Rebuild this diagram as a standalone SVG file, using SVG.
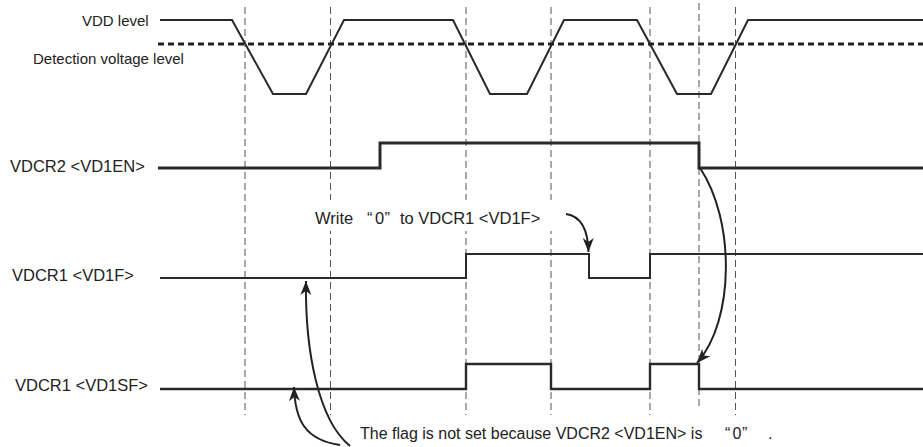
<svg xmlns="http://www.w3.org/2000/svg" width="923" height="447" viewBox="0 0 923 447">
<style>
text{font-family:"Liberation Sans",Arial,sans-serif;fill:#222;}
.lbl{font-size:16.5px;}
.vdd{font-size:15px;}
.grid{stroke:#555;stroke-width:1;stroke-dasharray:7 4;fill:none;}
.wave{fill:none;stroke:#2a2a2a;stroke-linejoin:miter;}
.arr{fill:none;stroke:#222;stroke-width:2;marker-end:url(#ah);}
</style>
<defs>
<marker id="ah" markerWidth="16" markerHeight="12" viewBox="-15 -6 16 12" refX="0" refY="0" orient="auto" markerUnits="userSpaceOnUse">
<path d="M0,0 L-14,-5.5 L-10,0 L-14,5.5 Z" fill="#222"/>
</marker>
</defs>
<rect width="923" height="447" fill="#fff"/>
<g id="grid">
<line class="grid" x1="245" y1="7" x2="245" y2="415"/>
<line class="grid" x1="330.5" y1="7" x2="330.5" y2="415"/>
<line class="grid" x1="466" y1="7" x2="466" y2="415"/>
<line class="grid" x1="551" y1="7" x2="551" y2="415"/>
<line class="grid" x1="650" y1="7" x2="650" y2="415"/>
<line class="grid" x1="699" y1="3" x2="699" y2="410"/>
<line class="grid" x1="735.5" y1="7" x2="735.5" y2="415"/>
</g>
<g id="vdd">
<path class="wave" stroke-width="2" d="M160,20 H232 L273,94 H306 L344,20 H453 L490,94 H527 L564,20 H637 L677,94 H711 L748,20 H923"/>
<line x1="158" y1="44" x2="923" y2="44" stroke="#222" stroke-width="2.8" stroke-dasharray="6 4"/>
<text class="vdd" x="82" y="26">VDD level</text>
<text class="vdd" x="33" y="64">Detection voltage level</text>
</g>
<g id="vd1en">
<text class="lbl" x="10" y="171.5">VDCR2 &lt;VD1EN&gt;</text>
<path class="wave" stroke-width="3" d="M158,168 H380 V143 H699 V168 H923"/>
</g>
<g id="vd1f">
<text class="lbl" x="12" y="281">VDCR1 &lt;VD1F&gt;</text>
<path class="wave" stroke-width="2" stroke="#444" d="M160,278 H466 V254 H589 V278 H650 V254 H923"/>
</g>
<g id="vd1sf">
<text class="lbl" x="15" y="391">VDCR1 &lt;VD1SF&gt;</text>
<path class="wave" stroke-width="2.4" d="M160,389 H466 V364 H551 V389 H650 V364 H699 V389 H923"/>
</g>
<g id="note-write">
<rect x="310" y="200" width="245" height="31" fill="#fff"/>
<text class="lbl" x="315" y="224">Write<tspan x="367">“</tspan><tspan x="375">0</tspan><tspan x="384.5">”</tspan><tspan x="400">to VDCR1 &lt;VD1F&gt;</tspan></text>
</g>
<g id="note-flag">
<text style="font-size:16px" x="360" y="439">The flag is not set because VDCR2 &lt;VD1EN&gt; is<tspan x="725">“</tspan><tspan x="732.5">0</tspan><tspan x="742">”</tspan><tspan x="768">.</tspan></text>
</g>
<g id="connectors">
<path class="arr" d="M566,214 C580,216 588,228 588.5,252"/>
<path class="arr" d="M700,168 C735,220 735,320 697,363"/>
<path class="arr" d="M340,445 C305,440 295,420 294,387"/>
<path class="arr" d="M350,446 C318,420 305,350 306,281"/>
</g>
</svg>
